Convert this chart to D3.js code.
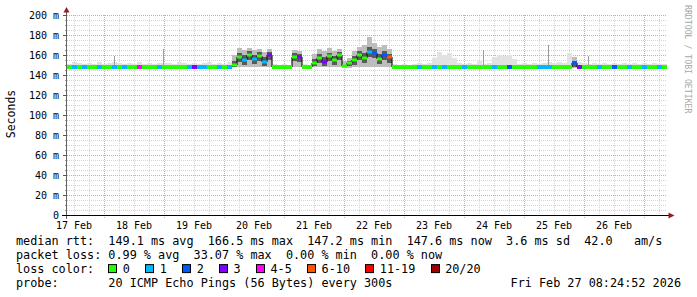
<!DOCTYPE html>
<html>
<head>
<meta charset="utf-8">
<script src="https://cdn.jsdelivr.net/npm/d3@7"></script>
<style>
body { margin: 0; background: #fff; }
text { font-family: "DejaVu Sans Mono", monospace; }
</style>
</head>
<body>
<div class="chart"></div>
<script>
// 2-hour samples, Feb 17 09:12 .. Feb 27 09:12 (UTC)
var startTime = new Date(Date.UTC(2026, 1, 17, 9, 12));
var endTime = new Date(Date.UTC(2026, 1, 27, 9, 12));
var stepHours = 2;

var median = [
	148,148,148,148,148,148,148,148,148,148,148,148,
	148,148,148,148,148,148,148,148,148,148,148,148,
	148,148,148,148,148,148,148,148,148,150,158,155,
	160,156,159,153,160,148,148,148,148,158,158,148,
	148,152,157,153,159,155,160,149,152,155,160,157,
	163,162,156,160,158,148,148,148,148,148,148,148,
	148,148,148,148,148,148,148,148,148,148,148,148,
	148,148,148,148,148,148,148,148,148,148,148,148,
	148,148,148,148,148,152,148,148,148,148,148,148,
	148,148,148,148,148,148,148,148,148,148,148,148
];

var smokeHi = [
	151,153,152,151,152,151,153,151,152,153,152,151,
	152,151,153,151,152,151,152,152,152,151,153,152,
	151,152,151,152,153,151,152,151,153,160,167,165,
	167,165,166,163,166,151,150,151,150,165,164,151,
	150,161,166,164,167,164,166,154,157,164,168,170,
	178,172,168,170,166,151,150,151,150,151,152,151,
	152,157,163,160,162,157,152,151,152,151,154,151,
	152,158,160,159,160,156,151,152,151,152,151,152,
	153,152,153,152,162,158,153,152,151,152,151,152,
	151,152,151,152,151,152,151,152,151,152,151,151
];

var smokeLo = [
	147,147,147,147,147,147,147,147,147,147,147,147,
	147,147,147,147,147,147,147,147,147,147,147,147,
	147,147,147,147,147,147,147,147,147,148,148,148,
	148,148,148,148,148,147,147,147,147,148,148,147,
	147,148,148,148,148,148,148,147,147,148,148,148,
	148,148,148,148,148,147,147,147,147,147,147,147,
	147,147,147,147,147,147,147,147,147,147,147,147,
	147,147,147,147,147,147,147,147,147,147,147,147,
	147,147,147,147,147,147,147,147,147,147,147,147,
	147,147,147,147,147,147,147,147,147,147,147,147
];

var coreHi = [
	null,null,null,null,null,null,null,null,null,null,null,null,
	null,null,null,null,null,null,null,null,null,null,null,null,
	null,null,null,null,null,null,null,null,null,154,162,160,
	164,160,163,158,163,null,null,null,null,162,161,null,
	null,156,161,158,162,159,163,150,154,159,164,162,
	168,166,161,164,161,null,null,null,null,null,null,null,
	null,null,null,null,null,null,null,null,null,null,null,null,
	null,null,null,null,null,null,null,null,null,null,null,null,
	null,null,null,null,null,154,null,null,null,null,null,null,
	null,null,null,null,null,null,null,null,null,null,null,null
];

var coreLo = [
	null,null,null,null,null,null,null,null,null,null,null,null,
	null,null,null,null,null,null,null,null,null,null,null,null,
	null,null,null,null,null,null,null,null,null,148,153,150,
	155,151,154,149,155,null,null,null,null,154,153,null,
	null,149,152,149,154,150,155,148,149,150,155,152,
	158,157,151,155,152,null,null,null,null,null,null,null,
	null,null,null,null,null,null,null,null,null,null,null,null,
	null,null,null,null,null,null,null,null,null,null,null,null,
	null,null,null,null,null,148,null,null,null,null,null,null,
	null,null,null,null,null,null,null,null,null,null,null,null
];

// lost pings out of 20 per sample
var loss = [
	0,1,0,1,0,0,1,0,0,1,0,1,
	0,0,4,0,0,0,1,0,0,0,0,0,
	1,3,1,1,0,0,1,0,1,0,0,1,
	0,1,0,1,3,0,0,0,0,0,3,0,
	0,0,0,3,0,0,0,0,0,0,0,0,
	1,2,0,2,6,0,0,0,0,0,1,0,
	0,1,0,1,0,0,0,1,0,0,0,0,
	0,1,0,0,2,0,0,0,0,0,1,1,
	1,0,0,0,0,2,3,0,0,0,1,0,
	0,2,0,0,1,0,0,1,0,0,1,0
];

// single outlier pings
var spikeTimes = ['2026-02-18T04:00Z', '2026-02-18T23:36Z', '2026-02-24T07:36Z', '2026-02-25T09:36Z', '2026-02-26T01:36Z'];
var spikeVals = [159, 166, 165, 170, 159];

var yTicks = [0, 20, 40, 60, 80, 100, 120, 140, 160, 180, 200];
var dayLabels = ['17 Feb', '18 Feb', '19 Feb', '20 Feb', '21 Feb', '22 Feb', '23 Feb', '24 Feb', '25 Feb', '26 Feb'];

var lossLabels = ['0', '1', '2', '3', '4-5', '6-10', '11-19', '20/20'];
var lossColors = ['#26ff00', '#00b8ff', '#0059ff', '#7e00ff', '#ff00ff', '#ff5500', '#ff0000', '#a10000'];

var statLines = [
	'median rtt:  149.1 ms avg  166.5 ms max  147.2 ms min  147.6 ms now  3.6 ms sd  42.0   am/s',
	'packet loss: 0.99 % avg  33.07 % max  0.00 % min  0.00 % now',
	'loss color:',
	'probe:       20 ICMP Echo Pings (56 Bytes) every 300s'
];
var stamp = 'Fri Feb 27 08:24:52 2026';

var plot = { left: 67, right: 667, top: 15, bottom: 215 };

var svg = d3.select('.chart')
	.append('svg')
		.attr('width', 697)
		.attr('height', 297);

var x = d3.scaleUtc()
	.domain([startTime, endTime])
	.range([plot.left, plot.right]);

var y = d3.scaleLinear()
	.domain([0, 200])
	.range([plot.bottom, plot.top]);

var times = median.map((d, i) => d3.utcHour.offset(startTime, i * stepHours));
var tEnd = i => i + 1 < times.length ? times[i + 1] : endTime;

function lossIndex(n) {
	if (n <= 3) return n;
	if (n <= 5) return 4;
	if (n <= 10) return 5;
	if (n <= 19) return 6;
	return 7;
}

var px = v => Math.round(v) + 0.5;

// grid
var grid = svg.append('g');

var minorY = d3.range(5, 201, 5).filter(v => v % 20 != 0);
grid.selectAll('.hmin').data(minorY).enter().append('line')
	.attr('x1', plot.left).attr('x2', plot.right)
	.attr('y1', d => px(y(d))).attr('y2', d => px(y(d)))
	.attr('stroke', '#d4d4d4').attr('stroke-dasharray', '1,1');

var minorX = d3.utcHour.every(6).range(startTime, endTime).filter(d => d.getUTCHours() != 0);
grid.selectAll('.vmin').data(minorX).enter().append('line')
	.attr('x1', d => px(x(d))).attr('x2', d => px(x(d)))
	.attr('y1', plot.top).attr('y2', plot.bottom)
	.attr('stroke', '#d4d4d4').attr('stroke-dasharray', '1,1');

grid.selectAll('.hmaj').data(yTicks.slice(1)).enter().append('line')
	.attr('x1', plot.left).attr('x2', plot.right)
	.attr('y1', d => px(y(d))).attr('y2', d => px(y(d)))
	.attr('stroke', '#e4a0a0').attr('stroke-dasharray', '1,1');

var days = d3.utcDay.range(startTime, endTime);
grid.selectAll('.vmaj').data(days).enter().append('line')
	.attr('x1', d => px(x(d))).attr('x2', d => px(x(d)))
	.attr('y1', plot.top).attr('y2', plot.bottom + 3)
	.attr('stroke', '#e4a0a0').attr('stroke-dasharray', '1,1');

// smoke
var smoke = svg.append('g');
smoke.selectAll('.light').data(times).enter().append('rect')
	.attr('x', (d, i) => x(d))
	.attr('width', (d, i) => x(tEnd(i)) - x(d))
	.attr('y', (d, i) => y(smokeHi[i]))
	.attr('height', (d, i) => y(smokeLo[i]) - y(smokeHi[i]))
	.attr('fill', (d, i) => coreHi[i] != null ? '#bdbdbd' : '#e2e2e2');

smoke.selectAll('.core').data(times.map((d, i) => i).filter(i => coreHi[i] != null)).enter().append('rect')
	.attr('x', i => x(times[i]))
	.attr('width', i => x(tEnd(i)) - x(times[i]))
	.attr('y', i => y(coreHi[i]))
	.attr('height', i => y(coreLo[i]) - y(coreHi[i]))
	.attr('fill', '#5a5a5a');

smoke.selectAll('.spike').data(spikeTimes).enter().append('line')
	.attr('x1', d => px(x(new Date(d)))).attr('x2', d => px(x(new Date(d))))
	.attr('y1', (d, i) => y(spikeVals[i])).attr('y2', y(148))
	.attr('stroke', '#9a9a9a').attr('stroke-width', 1);

// median, coloured by loss
var med = svg.append('g');
med.selectAll('.jump').data(times.map((d, i) => i).filter(i => i > 0 && median[i] != median[i - 1])).enter().append('line')
	.attr('x1', i => x(times[i])).attr('x2', i => x(times[i]))
	.attr('y1', i => y(median[i - 1])).attr('y2', i => y(median[i]))
	.attr('stroke', '#1a1a1a').attr('stroke-width', 1.2);

med.selectAll('.seg').data(times).enter().append('line')
	.attr('x1', d => x(d))
	.attr('x2', (d, i) => x(tEnd(i)))
	.attr('y1', (d, i) => y(median[i]))
	.attr('y2', (d, i) => y(median[i]))
	.attr('stroke', (d, i) => lossColors[lossIndex(loss[i])])
	.attr('stroke-width', (d, i) => coreHi[i] != null ? 3 : 4);

// axes
var axes = svg.append('g');
axes.selectAll('.ytick').data(yTicks).enter().append('line')
	.attr('x1', 63).attr('x2', 67)
	.attr('y1', d => px(y(d))).attr('y2', d => px(y(d)))
	.attr('stroke', '#555');
axes.selectAll('.ymtick').data(minorY).enter().append('line')
	.attr('x1', 65).attr('x2', 67)
	.attr('y1', d => px(y(d))).attr('y2', d => px(y(d)))
	.attr('stroke', '#999');

axes.append('line')
	.attr('x1', 66.5).attr('x2', 66.5)
	.attr('y1', 219).attr('y2', 12)
	.attr('stroke', '#606060');
axes.append('line')
	.attr('x1', 62).attr('x2', 670)
	.attr('y1', 215.5).attr('y2', 215.5)
	.attr('stroke', '#000');
axes.append('path')
	.attr('d', 'M63.5,12.5 L69.5,12.5 L66.5,7 Z')
	.attr('fill', '#9b1c1c');
axes.append('path')
	.attr('d', 'M668.5,212.5 L668.5,218.5 L674.5,215.5 Z')
	.attr('fill', '#9b1c1c');

axes.selectAll('.ylab').data(yTicks).enter().append('text')
	.attr('x', 59)
	.attr('y', d => y(d) + 4)
	.attr('text-anchor', 'end')
	.attr('font-size', 10)
	.text(d => d == 0 ? '0' : d + ' m');

axes.selectAll('.xlab').data(dayLabels).enter().append('text')
	.attr('x', (d, i) => x(d3.utcHour.offset(days[0], -12 + i * 24)))
	.attr('y', 228.5)
	.attr('text-anchor', 'middle')
	.attr('font-size', 10)
	.text(d => d);

svg.append('text')
	.attr('transform', 'translate(15,114) rotate(-90)')
	.attr('text-anchor', 'middle')
	.attr('font-size', 11.5)
	.text('Seconds');

svg.append('text')
	.attr('transform', 'translate(685,5) rotate(90)')
	.attr('font-size', 8.2)
	.attr('fill', '#a8a8a8')
	.text('RRDTOOL / TOBI OETIKER');

// legend
var fs = 11.8;
var legend = svg.append('g').style('font-size', fs + 'px');
var rowY = [245.3, 259.1, 272.9, 286.7];
legend.selectAll('.stat').data(statLines).enter().append('text')
	.attr('x', 16)
	.attr('y', (d, i) => rowY[i])
	.style('white-space', 'pre')
	.text(d => d);

legend.append('text')
	.attr('x', 681)
	.attr('y', rowY[3])
	.attr('text-anchor', 'end')
	.text(stamp);

var cw = fs * 0.6021;
var lx = 16 + 13 * cw;
lossLabels.forEach(function(lab, i) {
	legend.append('rect')
		.attr('x', Math.round(lx) + 0.5)
		.attr('y', rowY[2] - 8.3)
		.attr('width', 8)
		.attr('height', 8)
		.attr('fill', lossColors[i])
		.attr('stroke', '#000');
	var tx = lx + 14.5;
	legend.append('text')
		.attr('x', tx)
		.attr('y', rowY[2])
		.text(lab);
	lx = tx + lab.length * cw + 15.3;
});
</script>
</body>
</html>
